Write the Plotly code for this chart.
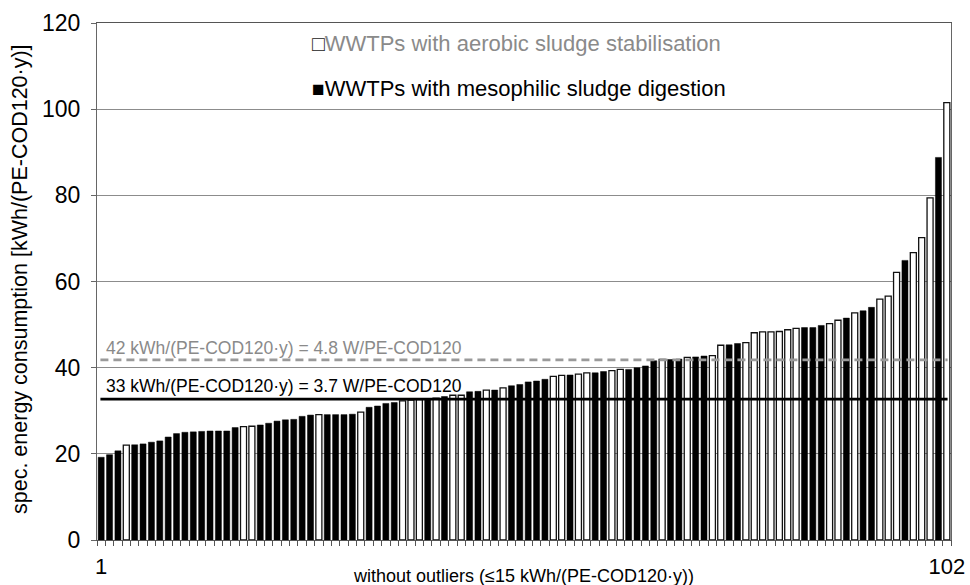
import plotly.graph_objects as go

# ---- data ----
ranks = list(range(1, 103))
energy = [
    19.2, 19.8, 20.7, 22.0, 22.1, 22.3, 22.7, 23.0, 23.9, 24.7,
    25.0, 25.1, 25.2, 25.3, 25.3, 25.3, 26.1, 26.3, 26.4, 26.7,
    27.1, 27.6, 27.9, 28.0, 28.7, 29.0, 29.1, 29.1, 29.1, 29.1,
    29.2, 29.7, 30.8, 31.1, 31.7, 31.9, 32.3, 32.5, 32.6, 32.7,
    32.9, 33.3, 33.6, 33.6, 34.4, 34.5, 34.8, 34.8, 35.3, 35.8,
    36.1, 36.7, 36.9, 37.3, 38.0, 38.2, 38.3, 38.5, 38.8, 38.8,
    39.1, 39.3, 39.6, 39.6, 40.0, 40.4, 41.6, 41.9, 41.9, 42.0,
    42.4, 42.5, 42.7, 42.8, 45.2, 45.3, 45.6, 45.8, 48.1, 48.3,
    48.3, 48.4, 48.8, 49.1, 49.3, 49.3, 49.8, 50.2, 51.0, 51.5,
    52.7, 53.2, 54.0, 55.9, 56.6, 62.1, 64.9, 66.7, 70.2, 79.4,
    88.8, 101.5,
]
# A = aerobic sludge stabilisation, D = mesophilic sludge digestion
plant_type = [
    "D", "D", "D", "A", "D", "D", "D", "D", "D", "D",          # 1-10
    "D", "D", "D", "D", "D", "D", "D", "A", "A", "D",          # 11-20
    "D", "D", "D", "D", "D", "D", "A", "D", "D", "D",          # 21-30
    "D", "A", "D", "D", "D", "D", "A", "A", "A", "D",          # 31-40
    "A", "D", "A", "A", "D", "D", "A", "D", "A", "D",          # 41-50
    "D", "D", "D", "D", "A", "A", "D", "A", "A", "D",          # 51-60
    "D", "A", "A", "D", "D", "D", "D", "A", "D", "D",          # 61-70
    "A", "D", "D", "A", "A", "D", "D", "A", "A", "A",          # 71-80
    "A", "A", "A", "A", "D", "D", "D", "A", "A", "D",          # 81-90
    "A", "D", "D", "A", "A", "A", "D", "A", "A", "A",          # 91-100
    "D", "A",                                                  # 101-102
]
reference_values = [41.8, 32.7]
reference_labels = [
    "42 kWh/(PE-COD120·y) = 4.8 W/PE-COD120",
    "33 kWh/(PE-COD120·y) = 3.7 W/PE-COD120",
]
legend_labels = [
    "WWTPs with aerobic sludge stabilisation",
    "WWTPs with mesophilic sludge digestion",
]
y_ticks = [0, 20, 40, 60, 80, 100, 120]
y_title = "spec. energy consumption [kWh/(PE-COD120·y)]"
x_title = "without outliers (≤15 kWh/(PE-COD120·y))"

FONT = "Liberation Sans, Arial, sans-serif"

cats = [str(r) for r in ranks]
aer_x = [str(r) for r, t in zip(ranks, plant_type) if t == "A"]
aer_y = [v for v, t in zip(energy, plant_type) if t == "A"]
dig_x = [str(r) for r, t in zip(ranks, plant_type) if t == "D"]
dig_y = [v for v, t in zip(energy, plant_type) if t == "D"]

fig = go.Figure()
fig.add_trace(go.Bar(
    x=aer_x, y=aer_y, name=legend_labels[0], width=0.72,
    marker=dict(color="white", line=dict(color="#111111", width=1.3)),
    showlegend=False,
))
fig.add_trace(go.Bar(
    x=dig_x, y=dig_y, name=legend_labels[1], width=0.72,
    marker=dict(color="black", line=dict(color="black", width=0.5)),
    showlegend=False,
))

# reference lines
fig.add_shape(type="line", xref="paper", yref="y", x0=0.004, x1=0.996,
              y0=reference_values[0], y1=reference_values[0],
              line=dict(color="#9a9a9a", width=2.6, dash="8px,5px"))
fig.add_shape(type="line", xref="paper", yref="y", x0=0.004, x1=0.996,
              y0=reference_values[1], y1=reference_values[1],
              line=dict(color="black", width=2.8))

PLOT_H = 517.0
def py(pix):
    return (540.0 - pix) / PLOT_H
def px(pix):
    return (pix - 97.0) / 854.0

annotations = [
    dict(text=reference_labels[0], x=px(104), y=reference_values[0], xref="paper", yref="y",
         xanchor="left", yanchor="bottom", yshift=0, showarrow=False,
         font=dict(family=FONT, size=17.5, color="#8a8a8a")),
    dict(text=reference_labels[1], x=px(104), y=reference_values[1], xref="paper", yref="y",
         xanchor="left", yanchor="bottom", yshift=1, showarrow=False,
         font=dict(family=FONT, size=17.5, color="black")),
    dict(text='<span style="font-size:21px;color:#222222">□</span>' + legend_labels[0],
         x=px(310), y=py(43.5), xref="paper", yref="paper", xanchor="left", yanchor="middle",
         showarrow=False, font=dict(family=FONT, size=22, color="#8a8a8a")),
    dict(text='<span style="font-size:21px">■</span>' + legend_labels[1],
         x=px(310), y=py(88.5), xref="paper", yref="paper", xanchor="left", yanchor="middle",
         showarrow=False, font=dict(family=FONT, size=22, color="black")),
    dict(text=x_title, x=px(523), y=py(576), xref="paper", yref="paper",
         xanchor="center", yanchor="middle", showarrow=False,
         font=dict(family=FONT, size=18, color="black")),
    dict(text=y_title, x=px(20), y=py(279), xref="paper", yref="paper", textangle=-90,
         xanchor="center", yanchor="middle", showarrow=False,
         font=dict(family=FONT, size=21.5, color="black")),
]

ticktext = [c if c in ("1", "102") else "" for c in cats]

fig.update_layout(
    width=970, height=585,
    margin=dict(l=97, r=19, t=23, b=45, pad=0, autoexpand=False),
    paper_bgcolor="white", plot_bgcolor="white",
    barmode="overlay", bargap=0.28,
    annotations=annotations,
    font=dict(family=FONT, color="black"),
    xaxis=dict(
        type="category", categoryorder="array", categoryarray=cats,
        tickmode="array", tickvals=cats, ticktext=ticktext, tickangle=0,
        tickson="boundaries", ticks="outside", ticklen=5, tickcolor="#555555", tickwidth=1,
        showgrid=False, showline=True, linecolor="#555555", linewidth=1, mirror=True,
        tickfont=dict(family=FONT, size=22, color="black"),
        ticklabelstandoff=7, range=[-0.5, 101.5], automargin=False,
    ),
    yaxis=dict(
        range=[0, 120], tickmode="array", tickvals=y_ticks,
        ticks="outside", ticklen=5, tickcolor="#666666",
        showgrid=True, gridcolor="#8c8c8c", gridwidth=1,
        showline=True, linecolor="#666666", linewidth=1, mirror=True,
        zeroline=False, automargin=False,
        tickfont=dict(family=FONT, size=23, color="black"),
        ticklabelstandoff=6,
    ),
)

fig.write_html("out.html")
